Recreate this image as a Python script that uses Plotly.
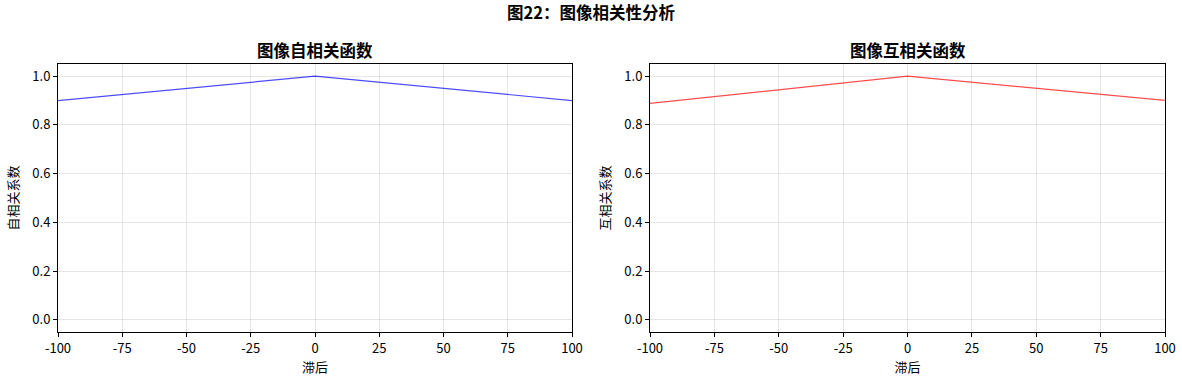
import plotly.graph_objects as go

lags = [-100, 0, 100]
auto_corr = [0.90, 1.0, 0.90]
cross_corr = [0.888, 1.0, 0.901]
x_ticks = [-100, -75, -50, -25, 0, 25, 50, 75, 100]
y_ticks = [0.0, 0.2, 0.4, 0.6, 0.8, 1.0]

W, H = 1182, 385
FONT = "Noto Sans CJK SC"

fig = go.Figure()
fig.add_trace(go.Scatter(x=lags, y=auto_corr, mode="lines",
                         line=dict(color="rgba(0,0,255,0.7)", width=1.2),
                         xaxis="x", yaxis="y", showlegend=False))
fig.add_trace(go.Scatter(x=lags, y=cross_corr, mode="lines",
                         line=dict(color="rgba(255,0,0,0.7)", width=1.2),
                         xaxis="x2", yaxis="y2", showlegend=False))

def xax(domain, anchor):
    return dict(domain=domain, anchor=anchor, range=[-100, 100], automargin=False,
                tickvals=x_ticks, ticktext=[str(v) for v in x_ticks],
                showline=True, linecolor="black", linewidth=1, mirror=True,
                ticks="outside", ticklen=4, tickcolor="black",
                showgrid=True, gridcolor="rgba(0,0,0,0.1)", zeroline=False,
                tickfont=dict(size=13, color="black", family=FONT),
                title=dict(text="滞后", font=dict(size=13, color="black", family=FONT), standoff=6))

def yax(domain, anchor, title):
    return dict(domain=domain, anchor=anchor, range=[-0.05, 1.05], automargin=False,
                tickvals=y_ticks, ticktext=[f"{v:.1f}" for v in y_ticks],
                showline=True, linecolor="black", linewidth=1, mirror=True,
                ticks="outside", ticklen=4, tickcolor="black",
                showgrid=True, gridcolor="rgba(0,0,0,0.1)", zeroline=False,
                tickfont=dict(size=13, color="black", family=FONT),
                title=dict(text=title, font=dict(size=13, color="black", family=FONT), standoff=10))

yd = [1 - 332 / H, 1 - 64 / H]
fig.update_layout(
    width=W, height=H,
    margin=dict(l=0, r=0, t=0, b=0, autoexpand=False),
    plot_bgcolor="white", paper_bgcolor="white",
    font=dict(family=FONT, color="black"),
    xaxis=xax([58 / W, 572 / W], "y"),
    yaxis=yax(yd, "x", "自相关系数"),
    xaxis2=xax([650 / W, 1165 / W], "y2"),
    yaxis2=yax(yd, "x2", "互相关系数"),
    annotations=[
        dict(text="<b>图22：图像相关性分析</b>", x=0.5, y=1 - 12 / H, xref="paper", yref="paper",
             showarrow=False, font=dict(size=16.5, family=FONT, color="black"),
             xanchor="center", yanchor="middle"),
        dict(text="<b>图像自相关函数</b>", x=(58 + 572) / 2 / W, y=1 - 50 / H, xref="paper", yref="paper",
             showarrow=False, font=dict(size=16.5, family=FONT, color="black"),
             xanchor="center", yanchor="middle"),
        dict(text="<b>图像互相关函数</b>", x=(650 + 1165) / 2 / W, y=1 - 50 / H, xref="paper", yref="paper",
             showarrow=False, font=dict(size=16.5, family=FONT, color="black"),
             xanchor="center", yanchor="middle"),
    ],
)

fig.write_html("out.html", config={"displayModeBar": False},
               post_script="document.body.style.margin='0';document.body.style.overflow='hidden';")
